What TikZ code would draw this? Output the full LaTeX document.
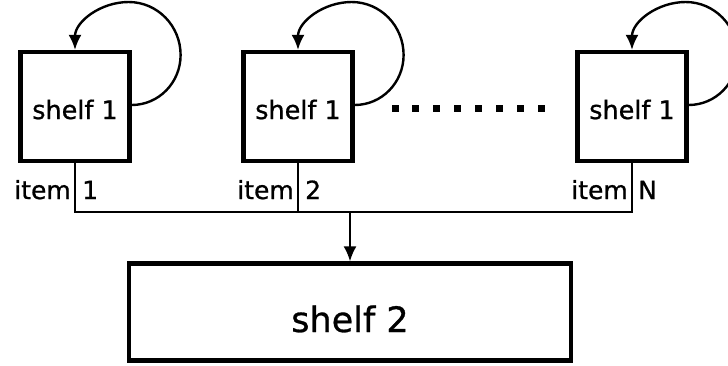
\documentclass[tikz,border=0pt]{standalone}
\usepackage{fontspec}
\setmainfont{DejaVu Sans}
\newfontfamily\heavyfont{DejaVu Sans}[FakeBold=0.8]
\usetikzlibrary{arrows.meta}
\begin{document}
\begin{tikzpicture}[x=1pt,y=-1pt,
  shelfbox/.style={draw, line width=4.2pt, minimum width=109pt, minimum height=109pt,
    inner sep=0pt, text height=25pt, text depth=0pt, font=\heavyfont\fontsize{25.5}{30}\selectfont},
  bigbox/.style={draw, line width=4.2pt, minimum width=442pt, minimum height=97pt,
    inner sep=0pt, text height=40pt, text depth=0pt, font=\heavyfont\fontsize{35}{42}\selectfont},
  conn/.style={line width=2.2pt},
  downarrow/.style={line width=2.2pt, -{Latex[length=15pt,width=13pt]}},
  selfloop/.style={line width=2.4pt, -{Latex[length=15pt,width=13pt]}},
  lbl/.style={font=\heavyfont\fontsize{25}{30}\selectfont, inner sep=0pt},
  dotsq/.style={fill=black}
]
\useasboundingbox (0,0) rectangle (728,365);

\node[shelfbox] (b1) at (75,106.5) {shelf 1};
\node[shelfbox] (b2) at (298,106.5) {shelf 1};
\node[shelfbox] (b3) at (632,106.5) {shelf 1};
\node[bigbox] (s2) at (350,312) {shelf 2};

% self loops
\foreach \b in {b1,b2,b3}{
  \draw[selfloop] ([yshift=1.5pt]\b.east) to[out=0,in=-90] ++(49,-50)
     to[out=90,in=0] ++(-52,-53) to[out=180,in=90] (\b.north);
}

% dots
\foreach \i in {0,...,7}{
  \fill[dotsq] (391.5+\i*20.86,104.5) rectangle ++(7,7);
}

% bus
\coordinate (bus) at (0,212);
\draw[conn] (b1.south) -- (b1.south |- bus) -| (b3.south);
\draw[conn] (b2.south) -- (b2.south |- bus);
\draw[downarrow] (s2.north |- bus) -- (s2.north);

% item labels
\node[lbl, anchor=base east] (i1) at (71,199) {item};
\node[lbl, anchor=base west] (n1) at (82,199) {1};
\node[lbl, anchor=base east] (i2) at (294,199) {item};
\node[lbl, anchor=base west] (n2) at (305,199) {2};
\node[lbl, anchor=base east] (i3) at (628,199) {item};
\node[lbl, anchor=base west] (n3) at (638,199) {N};
\end{tikzpicture}
\end{document}
